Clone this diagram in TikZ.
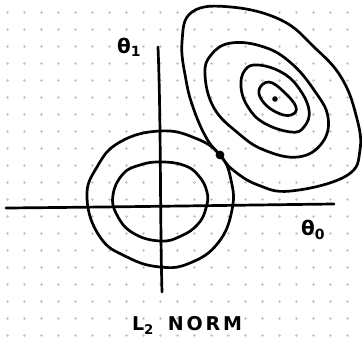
\documentclass[tikz,border=0pt]{standalone}
\usepackage{fontspec}
\newfontfamily\hand{DejaVu Sans}
\begin{document}
\begin{tikzpicture}[x=1pt,y=-1pt,
  ink/.style={line width=2.7pt, line cap=round, line join=round, black},
  gridmark/.style={gray!45, line width=0.5pt},
  lab/.style={inner sep=0pt, font=\hand\bfseries\fontsize{20}{22}\selectfont}]
\useasboundingbox (0,0) rectangle (362,341);
\fill[white] (0,0) rectangle (362,341);
% dotted grid
\foreach \i in {0,...,20} \foreach \j in {0,...,19} {
  \draw[gridmark] ({7.3+17*\i-1.5},{12.3+17*\j}) -- ++(3,0)
                  ({7.3+17*\i},{12.3+17*\j-1.5}) -- ++(0,3);
}
% axes
\coordinate (xl) at (6,208);
\coordinate (xr) at (334,204);
\coordinate (yt) at (158,47);
\coordinate (yb) at (162,292);
\draw[ink] (xl) .. controls (120,207) and (250,205) .. (xr);
\draw[ink] (yt) .. controls (161,120) and (160,220) .. (yb);
% circles (L2 constraint)
\draw[ink] plot[smooth cycle, tension=0.75] coordinates {
  (160,131) (195,138) (220,155) (231,180) (232,210) (218,243) (190,263)
  (160,267) (127,257) (100,237) (87,198) (97,167) (120,142)};
\draw[ink] plot[smooth cycle, tension=0.75] coordinates {
  (160,162) (183,165) (198,175) (207,192) (206,208) (198,224) (181,236)
  (160,241) (133,233) (117,215) (113,195) (123,174) (140,165)};
% ellipses (loss contours)
\draw[ink] plot[smooth cycle, tension=0.7] coordinates {
  (192,12) (231,7) (281,20) (314,47) (341,77) (356,115) (360,150)
  (346,176) (291,191) (258,185) (233,170) (220,155) (207,139) (194,110)
  (186,80) (182,42)};
\draw[ink] plot[smooth cycle, tension=0.7] coordinates {
  (231,43) (264,47) (291,63) (314,90) (328,117) (322,143) (298,157)
  (264,150) (238,133) (214,108) (205,75) (211,55)};
\draw[ink] plot[smooth cycle, tension=0.7] coordinates {
  (258,65) (281,72) (298,87) (309,110) (304,127) (291,132) (264,123)
  (248,107) (241,87) (245,70)};
\draw[ink] plot[smooth cycle, tension=0.7] coordinates {
  (269,82) (284,92) (296,107) (291,115) (278,113) (264,103) (259,90)};
% points
\fill (275,99) circle (2.8);
\fill (220,155) circle (4.4);
% labels
\node[lab] (t1) at (129,47) {θ\textsubscript{1}};
\node[lab] (t0) at (313,230) {θ\textsubscript{0}};
\node[inner sep=0pt, font=\hand\bfseries\fontsize{19}{22}\selectfont] (norm) at (187,325)
  {L\textsubscript{2}\hspace{14pt}\addfontfeature{LetterSpace=15}NORM};
\end{tikzpicture}
\end{document}
